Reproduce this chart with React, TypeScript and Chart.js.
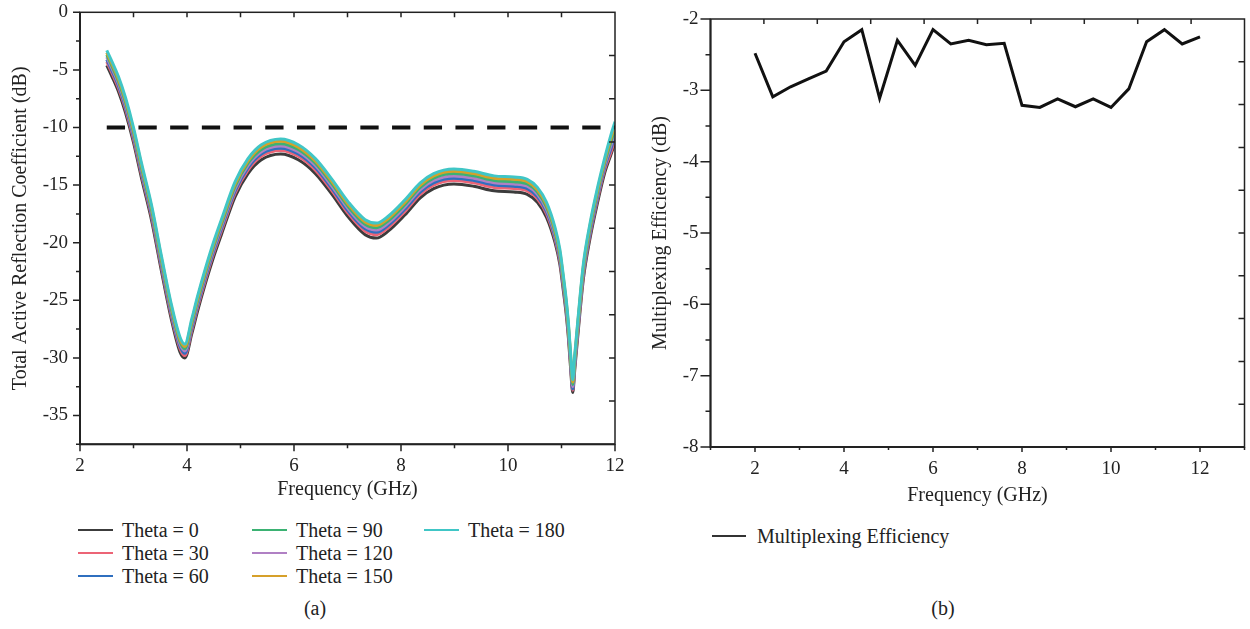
import React, { useEffect, useRef } from 'react';
import { Chart, registerables } from 'chart.js';

Chart.register(...registerables);

const FONT = "'Liberation Serif', 'Times New Roman', serif";
const INK = '#222';

// ---------- (a) Total active reflection coefficient ----------
const FREQ_GHZ = [2.5, 2.6, 2.72, 2.85, 3.0, 3.15, 3.34, 3.52, 3.71, 3.87, 3.96, 4.09, 4.2, 4.34, 4.5, 4.65, 4.9, 5.14, 5.39, 5.75, 6.08, 6.4, 6.71, 7.02, 7.33, 7.54, 7.76, 8.07, 8.36, 8.61, 8.99, 9.36, 9.74, 10.11, 10.36, 10.55, 10.72, 10.88, 10.97, 11.03, 11.09, 11.13, 11.17, 11.21, 11.25, 11.31, 11.41, 11.53, 11.66, 11.81, 11.92, 12.0];

const THETA_0 = [-4.6, -5.6, -6.9, -8.7, -11.3, -14.4, -18.1, -22.4, -26.7, -29.5, -30.0, -27.9, -25.9, -23.6, -21.2, -19.2, -16.0, -14.0, -12.8, -12.3, -12.8, -14.0, -15.8, -17.8, -19.3, -19.6, -19.0, -17.6, -16.1, -15.3, -14.9, -15.1, -15.5, -15.6, -15.8, -16.5, -17.8, -20.0, -21.9, -24.0, -26.3, -28.3, -30.9, -33.0, -30.9, -27.8, -23.1, -19.7, -16.8, -13.9, -12.4, -11.3];
const THETA_30 = [-4.3, -5.3, -6.6, -8.4, -11.0, -14.1, -17.8, -22.1, -26.4, -29.2, -29.8, -27.6, -25.6, -23.3, -20.9, -18.9, -15.7, -13.7, -12.5, -12.0, -12.5, -13.7, -15.5, -17.5, -19.0, -19.3, -18.7, -17.3, -15.8, -15.0, -14.6, -14.8, -15.2, -15.3, -15.5, -16.2, -17.5, -19.7, -21.6, -23.7, -26.0, -28.0, -30.6, -32.8, -30.6, -27.5, -22.8, -19.4, -16.5, -13.6, -12.2, -11.0];
const THETA_60 = [-4.1, -5.1, -6.4, -8.2, -10.8, -13.9, -17.6, -21.9, -26.2, -29.0, -29.6, -27.4, -25.4, -23.1, -20.7, -18.7, -15.5, -13.5, -12.3, -11.8, -12.3, -13.5, -15.3, -17.3, -18.8, -19.1, -18.5, -17.1, -15.6, -14.8, -14.4, -14.6, -15.0, -15.1, -15.3, -16.0, -17.3, -19.5, -21.4, -23.5, -25.8, -27.8, -30.4, -32.7, -30.4, -27.3, -22.6, -19.2, -16.3, -13.4, -11.9, -10.7];
const THETA_90 = [-3.7, -4.7, -6.0, -7.8, -10.4, -13.5, -17.2, -21.5, -25.8, -28.6, -29.2, -27.0, -25.0, -22.7, -20.3, -18.3, -15.1, -13.1, -11.9, -11.4, -11.9, -13.1, -14.9, -16.9, -18.4, -18.7, -18.1, -16.7, -15.2, -14.4, -14.0, -14.2, -14.6, -14.7, -14.9, -15.6, -16.9, -19.1, -21.0, -23.1, -25.4, -27.4, -30.0, -32.3, -30.0, -26.9, -22.2, -18.8, -15.9, -13.0, -11.3, -10.1];
const THETA_120 = [-3.9, -4.9, -6.2, -8.0, -10.6, -13.7, -17.4, -21.7, -26.0, -28.8, -29.4, -27.2, -25.2, -22.9, -20.5, -18.5, -15.3, -13.3, -12.1, -11.6, -12.1, -13.3, -15.1, -17.1, -18.6, -18.9, -18.3, -16.9, -15.4, -14.6, -14.2, -14.4, -14.8, -14.9, -15.1, -15.8, -17.1, -19.3, -21.2, -23.3, -25.6, -27.6, -30.2, -32.5, -30.2, -27.1, -22.4, -19.0, -16.1, -13.2, -11.6, -10.4];
const THETA_150 = [-3.5, -4.5, -5.8, -7.6, -10.2, -13.3, -17.0, -21.3, -25.6, -28.4, -29.0, -26.8, -24.8, -22.5, -20.1, -18.1, -14.9, -12.9, -11.7, -11.2, -11.7, -12.9, -14.7, -16.7, -18.2, -18.5, -17.9, -16.5, -15.0, -14.2, -13.8, -14.0, -14.4, -14.5, -14.7, -15.4, -16.7, -18.9, -20.8, -22.9, -25.2, -27.2, -29.8, -32.1, -29.8, -26.7, -22.0, -18.6, -15.7, -12.8, -11.0, -9.8];
const THETA_180 = [-3.3, -4.3, -5.6, -7.4, -10.0, -13.1, -16.8, -21.1, -25.4, -28.2, -28.8, -26.6, -24.6, -22.3, -19.9, -17.9, -14.7, -12.7, -11.5, -11.0, -11.5, -12.7, -14.5, -16.5, -18.0, -18.3, -17.7, -16.3, -14.8, -14.0, -13.6, -13.8, -14.2, -14.3, -14.5, -15.2, -16.5, -18.7, -20.6, -22.7, -25.0, -27.0, -29.6, -31.9, -29.6, -26.5, -21.8, -18.4, -15.5, -12.6, -10.7, -9.5];

const SERIES_VALUES = [THETA_0, THETA_30, THETA_60, THETA_90, THETA_120, THETA_150, THETA_180];
const SERIES_LABELS = ['Theta = 0', 'Theta = 30', 'Theta = 60', 'Theta = 90', 'Theta = 120', 'Theta = 150', 'Theta = 180'];
const SERIES_COLORS = ['#3c3c3c', '#ec6476', '#2f6fbf', '#3bb273', '#b080c4', '#d6a02a', '#40c6c6'];
// drawing order (lower = on top)
const SERIES_ORDER = [7, 6, 5, 3, 4, 2, 1];

const THRESHOLD_FREQ = [2.5, 12];
const THRESHOLD_DB = -10;

// ---------- (b) Multiplexing efficiency ----------
const ME_FREQ = [2.0, 2.4, 2.8, 3.2, 3.6, 4.0, 4.4, 4.8, 5.2, 5.6, 6.0, 6.4, 6.8, 7.2, 7.6, 8.0, 8.4, 8.8, 9.2, 9.6, 10.0, 10.4, 10.8, 11.2, 11.6, 12.0];
const ME_DB = [-2.48, -3.09, -2.95, -2.84, -2.73, -2.32, -2.15, -3.11, -2.30, -2.65, -2.15, -2.35, -2.30, -2.36, -2.34, -3.21, -3.24, -3.12, -3.23, -3.12, -3.24, -2.98, -2.32, -2.15, -2.35, -2.25];
const ME_LABEL = 'Multiplexing Efficiency';

type FrameCfg = {
  isXMajor: (v: number) => boolean;
  isYMajor: (v: number) => boolean;
  bottomMajor: number;
  bottomMinor: number;
  leftMajor: number;
  leftMinor: number;
  topLen: number;
  rightLen: number;
};

const makeFramePlugin = (cfg: FrameCfg) => ({
  id: 'originFrame',
  afterDatasetsDraw(chart: any) {
    const { ctx, chartArea: a, scales } = chart;
    const xs = scales.x;
    const ys = scales.y;
    ctx.save();
    ctx.strokeStyle = INK;
    ctx.lineCap = 'butt';
    ctx.lineWidth = 1.5;
    ctx.strokeRect(a.left, a.top, a.right - a.left, a.bottom - a.top);
    ctx.lineWidth = 2;
    ctx.beginPath();
    ctx.moveTo(a.left, a.top);
    ctx.lineTo(a.left, a.bottom);
    ctx.lineTo(a.right, a.bottom);
    ctx.stroke();
    ctx.lineWidth = 1.5;
    ctx.beginPath();
    xs.ticks.forEach((t: any) => {
      const p = xs.getPixelForValue(t.value);
      const len = cfg.isXMajor(t.value) ? cfg.bottomMajor : cfg.bottomMinor;
      ctx.moveTo(p, a.bottom);
      ctx.lineTo(p, a.bottom + len);
    });
    ys.ticks.forEach((t: any) => {
      const p = ys.getPixelForValue(t.value);
      const len = cfg.isYMajor(t.value) ? cfg.leftMajor : cfg.leftMinor;
      ctx.moveTo(a.left, p);
      ctx.lineTo(a.left - len, p);
    });
    for (let i = 1; i < 10; i++) {
      const px = a.left + ((a.right - a.left) * i) / 10;
      ctx.moveTo(px, a.top);
      ctx.lineTo(px, a.top + cfg.topLen);
      const py = a.top + ((a.bottom - a.top) * i) / 10;
      ctx.moveTo(a.right, py);
      ctx.lineTo(a.right - cfg.rightLen, py);
    }
    ctx.stroke();
    ctx.restore();
  },
});

const tickFont = { family: FONT, size: 19 };
const titleFont = { family: FONT, size: 20 };

const fitX = (h: number) => (s: any) => {
  s.height = h;
  s.paddingLeft = 0;
  s.paddingRight = 0;
};
const fitY = (w: number) => (s: any) => {
  s.width = w;
  s.paddingTop = 0;
  s.paddingBottom = 0;
};

function ReflectionChart() {
  const ref = useRef<HTMLCanvasElement>(null);
  useEffect(() => {
    const isXMajor = (v: number) => v % 2 === 0;
    const isYMajor = (v: number) => v % 5 === 0;
    const curveSets = SERIES_VALUES.map((vals, i) => ({
      label: SERIES_LABELS[i],
      data: FREQ_GHZ.map((f, k) => ({ x: f, y: vals[k] })),
      borderColor: SERIES_COLORS[i],
      borderWidth: 3,
      pointRadius: 0,
      cubicInterpolationMode: 'monotone' as const,
      order: SERIES_ORDER[i],
    }));
    const chart = new Chart(ref.current!, {
      type: 'line',
      data: {
        datasets: [
          ...curveSets,
          {
            label: '-10 dB',
            data: THRESHOLD_FREQ.map((f) => ({ x: f, y: THRESHOLD_DB })),
            borderColor: '#111',
            borderWidth: 4,
            borderDash: [18.3, 13.4],
            pointRadius: 0,
            order: 0,
          },
        ],
      },
      options: {
        responsive: false,
        animation: false,
        layout: { padding: { top: 12.3, right: 10, left: 0, bottom: 0 } },
        plugins: { legend: { display: false }, tooltip: { enabled: false } },
        scales: {
          x: {
            type: 'linear',
            min: 2,
            max: 12,
            afterFit: fitX(65.7),
            border: { display: false },
            grid: { display: false, drawTicks: false },
            ticks: {
              stepSize: 1,
              autoSkip: false,
              maxRotation: 0,
              padding: 10,
              color: INK,
              font: tickFont,
              callback: (v: any) => (isXMajor(Number(v)) ? String(v) : ''),
            },
            title: { display: true, text: 'Frequency (GHz)', color: INK, font: titleFont, padding: { top: 0, bottom: 8 } },
          },
          y: {
            type: 'linear',
            min: -37.5,
            max: 0,
            afterFit: fitY(80),
            border: { display: false },
            grid: { display: false, drawTicks: false },
            ticks: {
              stepSize: 2.5,
              autoSkip: false,
              padding: 12,
              color: INK,
              font: tickFont,
              callback: (v: any) => (isYMajor(Number(v)) ? String(v) : ''),
            },
            title: { display: true, text: 'Total Active Reflection Coefficient (dB)', color: INK, font: titleFont, padding: { top: 9, bottom: 0 } },
          },
        },
      },
      plugins: [makeFramePlugin({ isXMajor, isYMajor, bottomMajor: 7, bottomMinor: 4, leftMajor: 7, leftMinor: 4, topLen: 5, rightLen: 6 })],
    } as any);
    return () => chart.destroy();
  }, []);
  return <canvas ref={ref} width={625} height={510} style={{ position: 'absolute', left: 0, top: 0, width: 625, height: 510 }} />;
}

function EfficiencyChart() {
  const ref = useRef<HTMLCanvasElement>(null);
  useEffect(() => {
    const isXMajor = (v: number) => v % 2 === 0;
    const isYMajor = (v: number) => v % 1 === 0;
    const chart = new Chart(ref.current!, {
      type: 'line',
      data: {
        datasets: [
          {
            label: ME_LABEL,
            data: ME_FREQ.map((f, k) => ({ x: f, y: ME_DB[k] })),
            borderColor: '#111',
            borderWidth: 3,
            pointRadius: 0,
            tension: 0,
          },
        ],
      },
      options: {
        responsive: false,
        animation: false,
        layout: { padding: { top: 19, right: 5.5, left: 0, bottom: 0 } },
        plugins: { legend: { display: false }, tooltip: { enabled: false } },
        scales: {
          x: {
            type: 'linear',
            min: 1,
            max: 13,
            afterFit: fitX(63),
            border: { display: false },
            grid: { display: false, drawTicks: false },
            ticks: {
              stepSize: 1,
              autoSkip: false,
              maxRotation: 0,
              padding: 11,
              color: INK,
              font: tickFont,
              callback: (v: any) => (isXMajor(Number(v)) ? String(v) : ''),
            },
            title: { display: true, text: 'Frequency (GHz)', color: INK, font: titleFont, padding: { top: 0, bottom: 2 } },
          },
          y: {
            type: 'linear',
            min: -8,
            max: -2,
            afterFit: fitY(85.5),
            border: { display: false },
            grid: { display: false, drawTicks: false },
            ticks: {
              stepSize: 0.5,
              autoSkip: false,
              padding: 12,
              color: INK,
              font: tickFont,
              callback: (v: any) => (isYMajor(Number(v)) ? String(v) : ''),
            },
            title: { display: true, text: 'Multiplexing Efficiency (dB)', color: INK, font: titleFont, padding: { top: 24, bottom: 0 } },
          },
        },
      },
      plugins: [makeFramePlugin({ isXMajor, isYMajor, bottomMajor: 5, bottomMinor: 3, leftMajor: 10, leftMinor: 5, topLen: 5, rightLen: 6 })],
    } as any);
    return () => chart.destroy();
  }, []);
  return <canvas ref={ref} width={625} height={510} style={{ position: 'absolute', left: 625, top: 0, width: 625, height: 510 }} />;
}

const textStyle: React.CSSProperties = { fontFamily: FONT, fontSize: 20, color: INK, lineHeight: '23px', whiteSpace: 'nowrap' };

function ReflectionLegend() {
  return (
    <div
      style={{
        position: 'absolute',
        left: 78,
        top: 518.5,
        display: 'grid',
        gridTemplateColumns: '174px 172px 150px',
        gridTemplateRows: 'repeat(3, 23px)',
        gridAutoFlow: 'column',
      }}
    >
      {SERIES_LABELS.map((lab, i) => (
        <div key={lab} style={{ display: 'flex', alignItems: 'center', height: 23 }}>
          <span style={{ display: 'inline-block', width: 35, height: 2, background: SERIES_COLORS[i], marginRight: 9 }} />
          <span style={textStyle}>{lab}</span>
        </div>
      ))}
    </div>
  );
}

function EfficiencyLegend() {
  return (
    <div style={{ position: 'absolute', left: 712, top: 524.5, display: 'flex', alignItems: 'center', height: 23 }}>
      <span style={{ display: 'inline-block', width: 34, height: 1.5, background: '#333', marginRight: 11 }} />
      <span style={textStyle}>{ME_LABEL}</span>
    </div>
  );
}

export default function App() {
  return (
    <div style={{ position: 'absolute', left: 0, top: 0, width: 1250, height: 629, background: '#fff', overflow: 'hidden' }}>
      <ReflectionChart />
      <EfficiencyChart />
      <ReflectionLegend />
      <EfficiencyLegend />
      <div style={{ ...textStyle, position: 'absolute', left: 0, width: 630, top: 596.5, textAlign: 'center' }}>(a)</div>
      <div style={{ ...textStyle, position: 'absolute', left: 915, width: 56, top: 596.5, textAlign: 'center' }}>(b)</div>
    </div>
  );
}
